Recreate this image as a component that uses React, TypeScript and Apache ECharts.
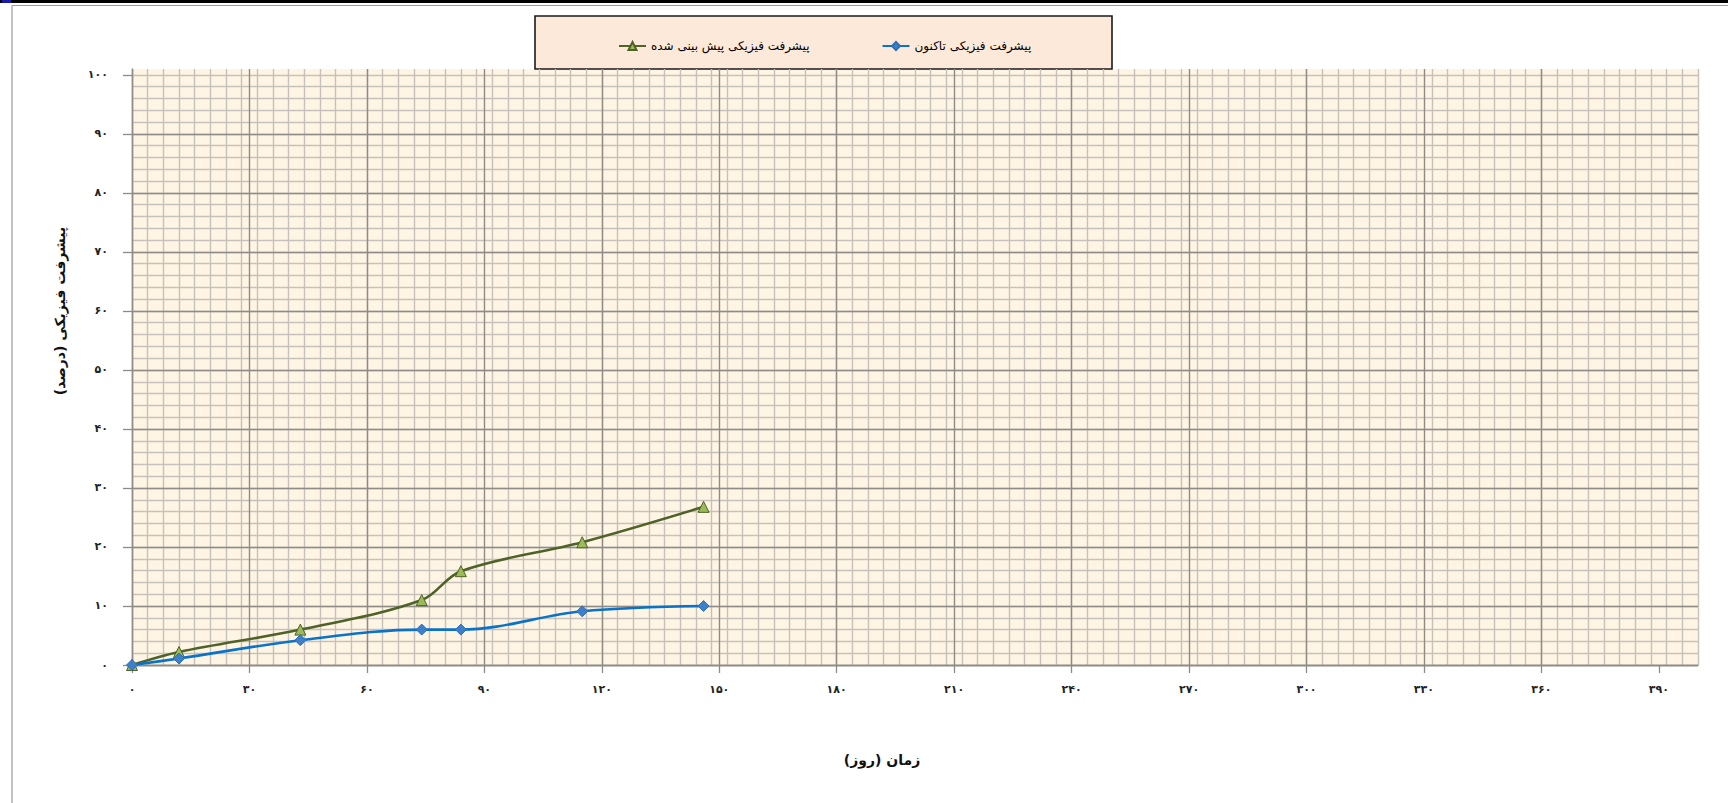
import React, { useEffect, useRef } from "react";
import * as echarts from "echarts";

// ---- data ----
const days = [0, 12, 43, 74, 84, 115, 146];
const forecastProgress = [0, 2.2, 6.0, 11.0, 15.9, 20.8, 26.8];
const actualProgress = [0, 1.1, 4.2, 6.0, 6.0, 9.1, 10.0];

const xTickValues = [0, 30, 60, 90, 120, 150, 180, 210, 240, 270, 300, 330, 360, 390];
const yTickValues = [0, 10, 20, 30, 40, 50, 60, 70, 80, 90, 100];

const forecastName = "پیشرفت فیزیکی پیش بینی شده";
const actualName = "پیشرفت فیزیکی تاکنون";
const xTitle = "زمان (روز)";
const yTitle = "پیشرفت فیزیکی (درصد)";

const FONT = "'DejaVu Sans', 'Noto Sans', sans-serif";
const persianDigits = "۰۱۲۳۴۵۶۷۸۹";
const toPersian = (v: number) => String(v).replace(/\d/g, (d) => persianDigits[Number(d)]);

const MAJOR = "#8f8c88";
const MINOR = "#c6c1ba";

export default function App() {
  const ref = useRef<HTMLDivElement>(null);

  useEffect(() => {
    if (!ref.current) return;
    const chart = echarts.init(ref.current, undefined, { renderer: "svg" });

    const forecastData = days.map((d, i) => [d, forecastProgress[i]]);
    const actualData = days.map((d, i) => [d, actualProgress[i]]);

    chart.setOption({
      animation: false,
      backgroundColor: "#ffffff",
      grid: {
        left: 132,
        top: 69,
        right: 30,
        bottom: 138,
        show: true,
        backgroundColor: "#fff5e5",
        borderWidth: 0,
        z: 0,
      },
      legend: {
        data: [forecastName, actualName],
        left: 613,
        top: 35,
        itemWidth: 27,
        itemHeight: 10,
        itemGap: 72,
        textStyle: { fontFamily: FONT, fontSize: 12, color: "#000" },
        z: 10,
      },
      xAxis: [
        {
          type: "value",
          min: 0,
          max: 400,
          interval: 30,
          z: 2,
          axisLine: { show: true, lineStyle: { color: MAJOR, width: 1.3 } },
          axisTick: {
            show: true,
            customValues: xTickValues,
            length: 8,
            lineStyle: { color: MAJOR, width: 1.3 },
          },
          axisLabel: {
            customValues: xTickValues,
            formatter: (v: number) => toPersian(v),
            margin: 19,
            fontFamily: FONT,
            fontSize: 11,
            fontWeight: "bold",
            color: "#222",
          },
          splitLine: {
            show: true,
            showMinLine: true,
            showMaxLine: false,
            lineStyle: { color: MAJOR, width: 1.4 },
          },
        },
        {
          type: "value",
          min: 0,
          max: 400,
          interval: 4,
          z: 1,
          axisLine: { show: false },
          axisTick: { show: false },
          axisLabel: { show: false },
          splitLine: { show: true, lineStyle: { color: MINOR, width: 1.4 } },
        },
      ],
      yAxis: [
        {
          type: "value",
          min: 0,
          max: 101,
          interval: 10,
          z: 2,
          axisLine: { show: true, lineStyle: { color: MAJOR, width: 1.3 } },
          axisTick: {
            show: true,
            customValues: yTickValues,
            length: 9,
            lineStyle: { color: MAJOR, width: 1.3 },
          },
          axisLabel: {
            customValues: yTickValues,
            formatter: (v: number) => toPersian(v),
            margin: 24,
            fontFamily: FONT,
            fontSize: 11,
            fontWeight: "bold",
            color: "#222",
          },
          splitLine: {
            show: true,
            showMaxLine: false,
            lineStyle: { color: MAJOR, width: 1.4 },
          },
        },
        {
          type: "value",
          min: 0,
          max: 101,
          interval: 2,
          z: 1,
          axisLine: { show: false },
          axisTick: { show: false },
          axisLabel: { show: false },
          splitLine: {
            show: true,
            showMaxLine: false,
            lineStyle: { color: MINOR, width: 1.4 },
          },
        },
      ],
      series: [
        {
          name: forecastName,
          type: "line",
          data: forecastData,
          smooth: 0.35,
          z: 5,
          symbol: "triangle",
          symbolSize: 11,
          lineStyle: { color: "#4f6228", width: 2.6 },
          itemStyle: { color: "#9bbb59", borderColor: "#4f6228", borderWidth: 1 },
        },
        {
          name: actualName,
          type: "line",
          data: actualData,
          smooth: 0.35,
          z: 6,
          symbol: "diamond",
          symbolSize: 11,
          lineStyle: { color: "#0a72c8", width: 2.6 },
          itemStyle: { color: "#3d7fc9", borderColor: "#2f6fb8", borderWidth: 1 },
        },
      ],
      graphic: [
        { type: "rect", z: 0, shape: { x: 0, y: 0, width: 1728, height: 3 }, style: { fill: "#000" } },
        { type: "rect", z: 1, shape: { x: 2, y: 0, width: 9, height: 3 }, style: { fill: "#1a1aa8" } },
        { type: "line", z: 0, shape: { x1: 12, y1: 5.5, x2: 1728, y2: 5.5 }, style: { stroke: "#9a9a9a", lineWidth: 1.2 } },
        { type: "line", z: 0, shape: { x1: 12, y1: 5.5, x2: 12, y2: 803 }, style: { stroke: "#9a9a9a", lineWidth: 1.2 } },
        {
          type: "rect",
          z: 1,
          shape: { x: 535, y: 16, width: 577, height: 53 },
          style: { fill: "#fde9d9", stroke: "#1a1a1a", lineWidth: 1.6 },
        },
        {
          type: "text",
          z: 5,
          x: 60,
          y: 311,
          rotation: Math.PI / 2,
          style: {
            text: yTitle + "\u200F",
            fontFamily: FONT,
            fontSize: 14,
            fontWeight: "bold",
            fill: "#111",
            align: "center",
            verticalAlign: "middle",
          },
        },
        {
          type: "text",
          z: 5,
          x: 882,
          y: 760,
          style: {
            text: xTitle + "\u200F",
            fontFamily: FONT,
            fontSize: 14,
            fontWeight: "bold",
            fill: "#111",
            align: "center",
            verticalAlign: "middle",
          },
        },
      ],
    });

    return () => chart.dispose();
  }, []);

  return (
    <div
      ref={ref}
      style={{ position: "fixed", left: 0, top: 0, width: 1728, height: 803, background: "#fff" }}
    />
  );
}
